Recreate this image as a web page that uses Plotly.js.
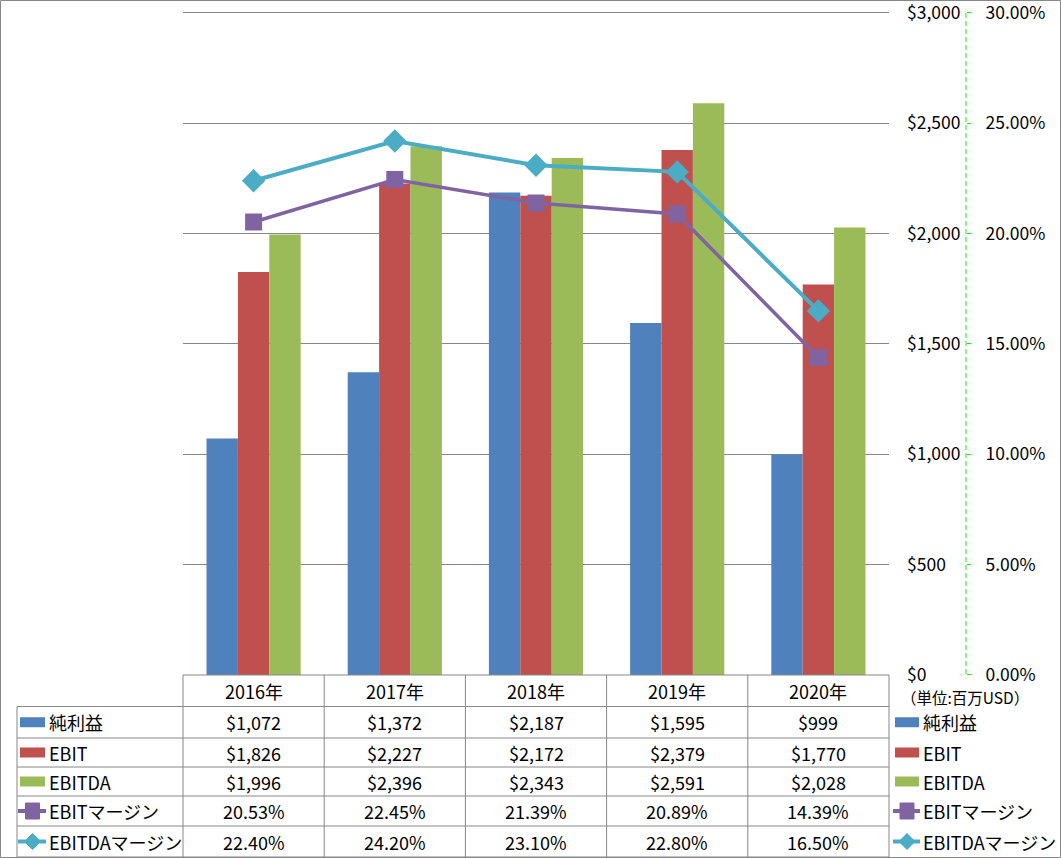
<!DOCTYPE html>
<html>
<head>
<meta charset="utf-8">
<script src="https://cdn.plot.ly/plotly-3.0.1.min.js"></script>
<style>html,body{margin:0;padding:0;background:#fff;}#chart{width:1061px;height:858px;}</style>
</head>
<body>
<div id="chart"></div>
<script>
// ---- data ----
const years = ['2016年', '2017年', '2018年', '2019年', '2020年'];
const netIncome = [1072, 1372, 2187, 1595, 999];
const ebit = [1826, 2227, 2172, 2379, 1770];
const ebitda = [1996, 2396, 2343, 2591, 2028];
const ebitMargin = [20.53, 22.45, 21.39, 20.89, 14.39];
const ebitdaMargin = [22.40, 24.20, 23.10, 22.80, 16.50];
const seriesNames = ['純利益', 'EBIT', 'EBITDA', 'EBITマージン', 'EBITDAマージン'];
const unitLabel = '（単位:百万USD）';

// ---- styling / layout helpers ----
const W = 1061, H = 858;
const C = {blue: '#4F81BD', red: '#C0504D', green: '#9BBB59', purple: '#8064A2', cyan: '#4BACC6', grid: '#878787', axisGreen: '#1EE61E'};
const FONT = '"Noto Sans CJK JP", "Noto Sans", sans-serif';
const FS = 18;
const TFS = 17.5;
const px = x => x / W;
const py = y => 1 - y / H;
const plotL = 183, plotR = 889, plotT = 13, plotB = 675;
const yMax = 3000, yPad = 20;              // small headroom so the top tick is kept
const pxPerUnit = (plotB - plotT) / yMax;
const domTop = plotB - (yMax + yPad) * pxPerUnit;
const rowLines = [675, 706.5, 738, 767, 796, 826, 857];
const colW = (plotR - plotL) / years.length;

const traces = [
  {type: 'bar', x: years, y: netIncome, name: seriesNames[0], marker: {color: C.blue}, yaxis: 'y'},
  {type: 'bar', x: years, y: ebit, name: seriesNames[1], marker: {color: C.red}, yaxis: 'y'},
  {type: 'bar', x: years, y: ebitda, name: seriesNames[2], marker: {color: C.green}, yaxis: 'y'},
  {type: 'scatter', mode: 'lines+markers', x: years, y: ebitMargin, name: seriesNames[3], yaxis: 'y2',
   line: {color: C.purple, width: 3.5}, marker: {symbol: 'square', size: 17, color: C.purple}},
  {type: 'scatter', mode: 'lines+markers', x: years, y: ebitdaMargin, name: seriesNames[4], yaxis: 'y2',
   line: {color: C.cyan, width: 4}, marker: {symbol: 'diamond', size: 18, color: C.cyan}}
];

const shapes = [];
const annotations = [];

// outer border
shapes.push({type: 'rect', xref: 'paper', yref: 'paper', x0: px(0.5), x1: px(1060.5), y0: py(0.5), y1: py(857.5),
  line: {color: C.grid, width: 1}});
// green dashed secondary axis line
shapes.push({type: 'line', xref: 'paper', yref: 'paper', x0: px(966), x1: px(966), y0: py(plotT), y1: py(plotB),
  line: {color: C.axisGreen, width: 1, dash: '5px,3px'}});

// table horizontal lines
rowLines.forEach((y, i) => {
  const x0 = i === 0 ? plotL : 17;
  shapes.push({type: 'line', xref: 'paper', yref: 'paper', x0: px(x0), x1: px(plotR), y0: py(y), y1: py(y),
    line: {color: C.grid, width: 1}});
});
// table vertical lines
for (let i = 0; i <= years.length; i++) {
  const x = plotL + i * colW;
  shapes.push({type: 'line', xref: 'paper', yref: 'paper', x0: px(x), x1: px(x), y0: py(rowLines[0]), y1: py(rowLines[6]),
    line: {color: C.grid, width: 1}});
}
shapes.push({type: 'line', xref: 'paper', yref: 'paper', x0: px(17), x1: px(17), y0: py(rowLines[1]), y1: py(rowLines[6]),
  line: {color: C.grid, width: 1}});

const fmtMoney = v => '$' + v.toLocaleString('en-US');
const fmtPct = v => v.toFixed(2) + '%';
const rowValues = [netIncome.map(fmtMoney), ebit.map(fmtMoney), ebitda.map(fmtMoney), ebitMargin.map(fmtPct), ebitdaMargin.map(fmtPct)];
const rowMid = i => (rowLines[i] + rowLines[i + 1]) / 2;

// header years
years.forEach((yr, j) => {
  annotations.push({xref: 'paper', yref: 'paper', x: px(plotL + (j + 0.5) * colW), y: py(rowMid(0)), text: yr,
    showarrow: false, xanchor: 'center', yanchor: 'middle', font: {size: FS}});
});
// values
rowValues.forEach((vals, r) => {
  vals.forEach((t, j) => {
    annotations.push({xref: 'paper', yref: 'paper', x: px(plotL + (j + 0.5) * colW), y: py(rowMid(r + 1)), text: t,
      showarrow: false, xanchor: 'center', yanchor: 'middle', font: {size: FS}});
  });
});

// legend keys (in table and on right)
const keyColors = [C.blue, C.red, C.green, C.purple, C.cyan];
function addKey(kx0, kx1, r) {
  const yc = rowMid(r + 1);
  const col = keyColors[r];
  if (r < 3) {
    shapes.push({type: 'rect', xref: 'paper', yref: 'paper', x0: px(kx0), x1: px(kx1), y0: py(yc - 5), y1: py(yc + 5),
      fillcolor: col, line: {width: 0}});
  } else {
    shapes.push({type: 'line', xref: 'paper', yref: 'paper', x0: px(kx0 - 2), x1: px(kx1 + 1), y0: py(yc), y1: py(yc),
      line: {color: col, width: 4}});
    const cx = (kx0 + kx1) / 2;
    if (r === 3) {
      shapes.push({type: 'rect', xref: 'paper', yref: 'paper', x0: px(cx - 7), x1: px(cx + 7), y0: py(yc - 8), y1: py(yc + 8),
        fillcolor: col, line: {color: col, width: 1}});
    } else {
      const d = 8;
      shapes.push({type: 'path', xref: 'paper', yref: 'paper',
        path: `M ${px(cx)} ${py(yc - d)} L ${px(cx + d)} ${py(yc)} L ${px(cx)} ${py(yc + d)} L ${px(cx - d)} ${py(yc)} Z`,
        fillcolor: col, line: {color: col, width: 1}});
    }
  }
}
seriesNames.forEach((name, r) => {
  addKey(20, 45, r);
  annotations.push({xref: 'paper', yref: 'paper', x: px(47), y: py(rowMid(r + 1)), text: name, showarrow: false,
    xanchor: 'left', yanchor: 'middle', font: {size: FS}});
  addKey(895, 919, r);
  annotations.push({xref: 'paper', yref: 'paper', x: px(921), y: py(rowMid(r + 1)), text: name, showarrow: false,
    xanchor: 'left', yanchor: 'middle', font: {size: FS}});
});
annotations.push({xref: 'paper', yref: 'paper', x: px(965), y: py(697), text: unitLabel, showarrow: false,
  xanchor: 'center', yanchor: 'middle', font: {size: 15.5}});

const layout = {
  width: W, height: H,
  margin: {l: 0, r: 0, t: 0, b: 0},
  paper_bgcolor: '#fff', plot_bgcolor: 'rgba(0,0,0,0)',
  font: {family: FONT, size: FS, color: '#000'},
  showlegend: false,
  barmode: 'group', bargap: 0.333, bargroupgap: 0,
  xaxis: {domain: [px(plotL), px(plotR)], showticklabels: false, showgrid: false, zeroline: false, showline: false,
    ticks: '', fixedrange: true},
  yaxis: {domain: [py(plotB), py(domTop)], range: [0, yMax + yPad], tickmode: 'linear', tick0: 0, dtick: 500,
    tickprefix: '$', tickformat: ',', ticklabeloverflow: 'allow',
    side: 'right', anchor: 'x', showline: false, zeroline: false, gridcolor: C.grid, gridwidth: 1,
    ticks: '', ticklabelstandoff: 17, tickfont: {size: TFS}},
  yaxis2: {overlaying: 'y', side: 'right', anchor: 'free', position: px(966), range: [0, (yMax + yPad) / 100],
    tickmode: 'linear', tick0: 0, dtick: 5, ticklabeloverflow: 'allow',
    ticksuffix: '%', tickformat: '.2f', showgrid: false, zeroline: false, showline: false,
    ticks: 'outside', ticklen: 4, tickcolor: C.axisGreen, tickwidth: 1, ticklabelstandoff: 11, tickfont: {size: TFS}},
  shapes: shapes,
  annotations: annotations
};

Plotly.newPlot('chart', traces, layout, {staticPlot: true, displayModeBar: false});
</script>
</body>
</html>
